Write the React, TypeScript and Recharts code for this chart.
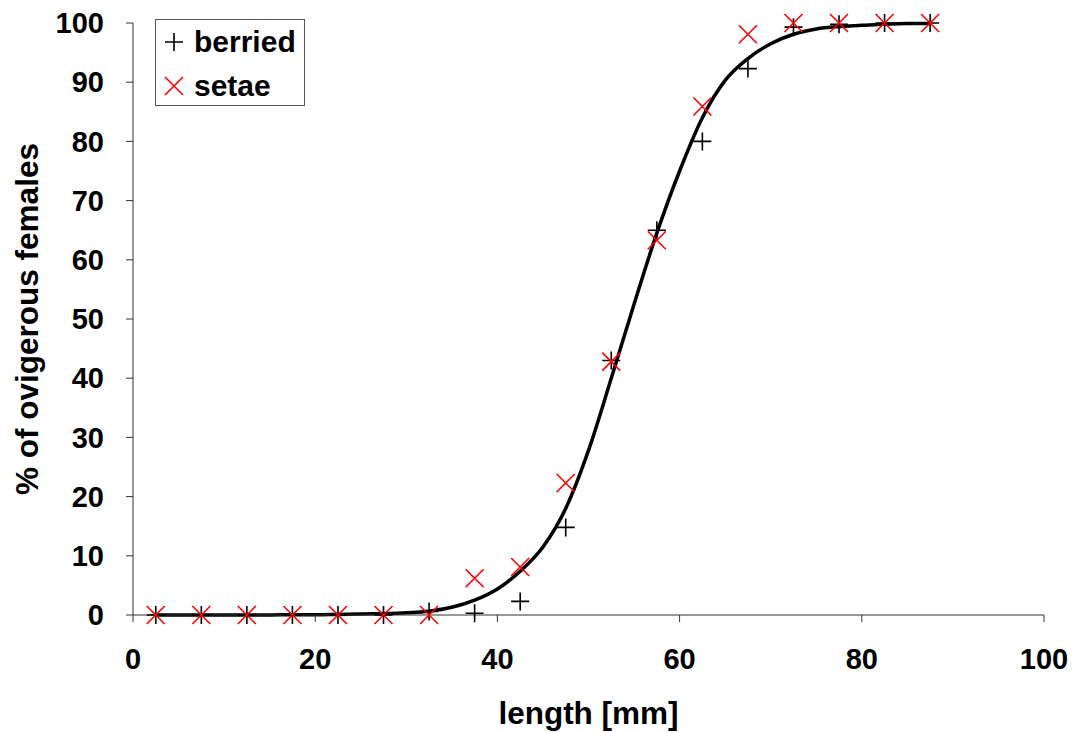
import React from "react";
import { ComposedChart, Line, Scatter, XAxis, YAxis, Label } from "recharts";

// size classes (mm), midpoints
const lengths = [2.5, 7.5, 12.5, 17.5, 22.5, 27.5, 32.5, 37.5, 42.5, 47.5, 52.5, 57.5, 62.5, 67.5, 72.5, 77.5, 82.5, 87.5];
const berried = [0, 0, 0, 0, 0, 0, 0.6, 0.3, 2.3, 14.8, 43, 65, 80, 92.3, 99.3, 99.8, 100, 100];
const setae = [0, 0, 0, 0, 0, 0, 0, 6.2, 8.1, 22.3, 42.8, 63.3, 85.9, 98.1, 100, 100, 100, 100];

// fitted curve
const fitX = [2.5, 5, 7.5, 10, 12.5, 15, 17.5, 20, 22.5, 25, 27.5, 30, 32.5, 35, 37.5, 40, 42.5, 45, 47.5, 50, 52.5, 55, 57.5, 60, 62.5, 65, 67.5, 70, 72.5, 75, 77.5, 80, 82.5, 85, 87.5];
const fitY = [0, 0, 0, 0, 0, 0, 0.05, 0.05, 0.1, 0.15, 0.25, 0.4, 0.65, 1.3, 2.5, 4.4, 7.4, 11.5, 18, 27.8, 40, 52.5, 64.5, 75, 84, 90.3, 94, 96.5, 98.1, 99, 99.4, 99.6, 99.8, 99.9, 99.9];

const xTicks = [0, 20, 40, 60, 80, 100];
const yTicks = [0, 10, 20, 30, 40, 50, 60, 70, 80, 90, 100];

const berriedData = lengths.map((x, i) => ({ x, y: berried[i] }));
const setaeData = lengths.map((x, i) => ({ x, y: setae[i] }));
const fitData = fitX.map((x, i) => ({ x, y: fitY[i] }));

const FONT = "'Liberation Sans', Arial, sans-serif";
const tickStyle = { fontSize: 29, fontWeight: 700, fill: "#000", fontFamily: FONT };
const titleStyle = { fontSize: 31.5, fontWeight: 700, fill: "#000", fontFamily: FONT };

const Plus = (p: any) => {
  const { cx, cy } = p;
  return (
    <path d={`M${cx - 9},${cy}H${cx + 9}M${cx},${cy - 9}V${cy + 9}`} stroke="#000" strokeWidth={1.6} fill="none" />
  );
};

const Cross = (p: any) => {
  const { cx, cy } = p;
  return (
    <path d={`M${cx - 9},${cy - 9}L${cx + 9},${cy + 9}M${cx - 9},${cy + 9}L${cx + 9},${cy - 9}`} stroke="#ff0000" strokeWidth={1.6} fill="none" />
  );
};

function LegendBox() {
  const row = { display: "flex", alignItems: "center", height: 44 } as const;
  return (
    <div
      style={{
        position: "absolute",
        left: 155,
        top: 19,
        border: "1px solid #555",
        background: "#fff",
        width: 150,
        height: 87,
        fontFamily: FONT,
        fontWeight: 700,
        fontSize: 30,
        color: "#000",
        boxSizing: "border-box",
        paddingLeft: 5,
      }}
    >
      <div style={row}>
        <svg width={26} height={26} style={{ marginRight: 7 }}>
          <path d="M4,13H22M13,4V22" stroke="#000" strokeWidth={1.6} />
        </svg>
        berried
      </div>
      <div style={row}>
        <svg width={26} height={26} style={{ marginRight: 7 }}>
          <path d="M4,4L22,22M4,22L22,4" stroke="#ff0000" strokeWidth={1.6} />
        </svg>
        setae
      </div>
    </div>
  );
}

export default function App() {
  return (
    <div style={{ position: "absolute", left: 0, top: 0, width: 1073, height: 733, background: "#fff" }}>
      <ComposedChart width={1073} height={733} margin={{ top: 23, right: 29, bottom: 0, left: 0 }}>
        <XAxis
          type="number"
          dataKey="x"
          domain={[0, 100]}
          ticks={xTicks}
          allowDataOverflow
          height={118}
          tickSize={7}
          tickMargin={26}
          tick={tickStyle}
          stroke="#333"
        >
          <Label value="length [mm]" position="insideBottom" offset={9} style={titleStyle} />
        </XAxis>
        <YAxis
          type="number"
          dataKey="y"
          domain={[0, 100]}
          ticks={yTicks}
          width={133}
          tickSize={7}
          tickMargin={22}
          tick={tickStyle}
          stroke="#333"
        >
          <Label value="% of ovigerous females" angle={-90} position="insideLeft" offset={27} style={{ ...titleStyle, textAnchor: "middle" }} />
        </YAxis>
        <Line data={fitData} dataKey="y" type="monotone" stroke="#000" strokeWidth={3.5} dot={false} isAnimationActive={false} />
        <Scatter data={berriedData} dataKey="y" shape={Plus} isAnimationActive={false} />
        <Scatter data={setaeData} dataKey="y" shape={Cross} isAnimationActive={false} />
      </ComposedChart>
      <LegendBox />
    </div>
  );
}
